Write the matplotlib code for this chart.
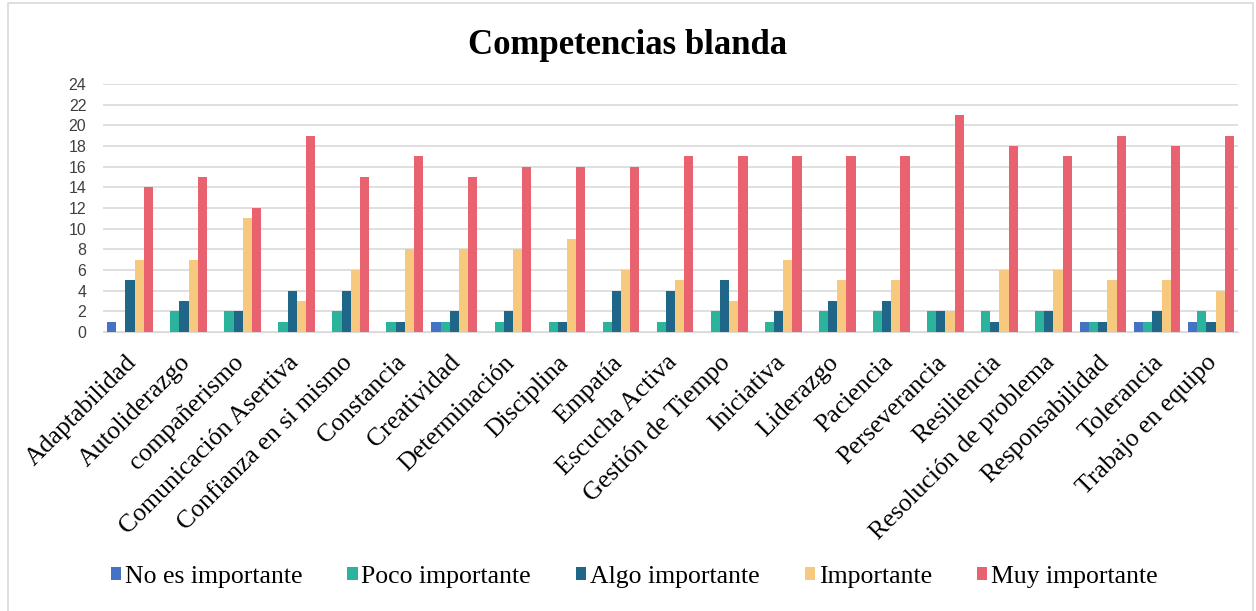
import numpy as np
import matplotlib
matplotlib.use("Agg")
import matplotlib.pyplot as plt
import matplotlib.transforms as mtransforms
from matplotlib.patches import Rectangle

categories = ["Adaptabilidad", "Autoliderazgo", "compañerismo", "Comunicación Asertiva",
              "Confianza en si mismo", "Constancia", "Creatividad", "Determinación",
              "Disciplina", "Empatía", "Escucha Activa", "Gestión de Tiempo", "Iniciativa",
              "Liderazgo", "Paciencia", "Perseverancia", "Resiliencia",
              "Resolución de problema", "Responsabilidad", "Tolerancia", "Trabajo en equipo"]

no_importante   = [1, 0, 0, 0, 0, 0, 1, 0, 0, 0, 0, 0, 0, 0, 0, 0, 0, 0, 1, 1, 1]
poco_importante = [0, 2, 2, 1, 2, 1, 1, 1, 1, 1, 1, 2, 1, 2, 2, 2, 2, 2, 1, 1, 2]
algo_importante = [5, 3, 2, 4, 4, 1, 2, 2, 1, 4, 4, 5, 2, 3, 3, 2, 1, 2, 1, 2, 1]
importante      = [7, 7, 11, 3, 6, 8, 8, 8, 9, 6, 5, 3, 7, 5, 5, 2, 6, 6, 5, 5, 4]
muy_importante  = [14, 15, 12, 19, 15, 17, 15, 16, 16, 16, 17, 17, 17, 17, 17, 21, 18, 17, 19, 18, 19]

series = [("No es importante", no_importante, "#4472C4"),
          ("Poco importante", poco_importante, "#2BB39C"),
          ("Algo importante", algo_importante, "#1F6688"),
          ("Importante", importante, "#F7C97F"),
          ("Muy importante", muy_importante, "#E9626F")]

fig = plt.figure(figsize=(12.56, 6.11), dpi=100)
ax = fig.add_axes([103/1256, 1-332/611, (1238-103)/1256, (332-84)/611])

x = np.arange(len(categories))
w = 0.17
for i, (name, vals, col) in enumerate(series):
    ax.bar(x + (i - 2) * w, vals, width=w, color=col, label=name, zorder=3)

ax.set_xlim(-0.5, len(categories) - 0.5)
ax.set_ylim(0, 24)
ax.set_yticks(range(0, 25, 2))
ax.grid(axis="y", color="#d9d9d9", linewidth=1.2, zorder=0)
for s in ["top", "right", "left"]:
    ax.spines[s].set_visible(False)
ax.spines["bottom"].set_color("#d9d9d9")
ax.tick_params(axis="both", length=0)
ax.tick_params(axis="y", labelsize=11.5, labelcolor="#404040", pad=12)
for t in ax.get_yticklabels():
    t.set_family("Liberation Sans")

ax.set_xticks(x)
ax.set_xticklabels(categories, rotation=45, ha="right", va="top",
                   rotation_mode="anchor", fontsize=18.5, family="Liberation Serif")
ax.tick_params(axis="x", pad=14)
# nudge rotated labels a little to the left
shift = mtransforms.ScaledTranslation(-5/100, 0, fig.dpi_scale_trans)
for t in ax.get_xticklabels():
    t.set_transform(t.get_transform() + shift)

fig.text(0.5, 1-45/611, "Competencias blanda", ha="center", va="center",
         fontsize=25, fontweight="bold", family="Liberation Serif")

fig.legend(loc="center", bbox_to_anchor=(0.505, 1-577/611), ncol=5, frameon=False,
           prop={"family": "Liberation Serif", "size": 18.5},
           handlelength=0.4, handleheight=0.4, handletextpad=0.15, columnspacing=1.75)

fig.patches.append(Rectangle((8/1256, -0.01), 1245/1256, 1-3/611 + 0.01,
                             transform=fig.transFigure, fill=False,
                             edgecolor="#d9d9d9", linewidth=1.2))

fig.savefig("out.png", dpi=100)
